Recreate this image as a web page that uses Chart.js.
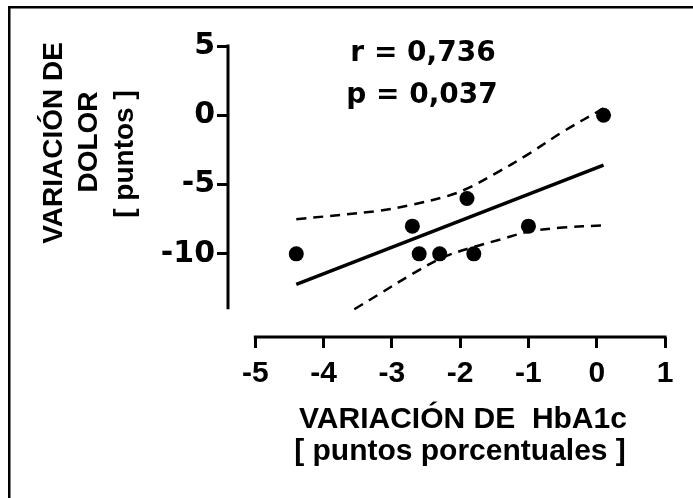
<!DOCTYPE html>
<html><head><meta charset="utf-8">
<script src="https://cdn.jsdelivr.net/npm/chart.js@4"></script>
<style>html,body{margin:0;padding:0;background:#fff;overflow:hidden}canvas{display:block}</style>
</head><body>
<canvas id="c" width="693" height="498"></canvas>
<script>
// ---- data ----
const pointX = [-4.4, -2.7, -2.6, -2.3, -1.9, -1.8, -1.0, 0.1];
const pointY = [-10, -8, -10, -10, -6, -10, -8, 0];
const fitX = [-4.4, 0.1];
const fitY = [-12.2, -3.6];
const upperX = [-4.4, -3.2, -2.7, -2.2, -1.9, -1.5, -1.0, -0.5, 0.1];
const upperY = [-7.5, -6.9, -6.45, -5.85, -5.3, -4.25, -2.8, -1.2, 0.5];
const lowerX = [-3.55, -3.2, -2.7, -2.25, -1.8, -1.4, -1.0, -0.5, 0.1];
const lowerY = [-14.0, -12.95, -11.45, -10.25, -9.5, -8.95, -8.4, -8.1, -7.95];
const xTicks = [-5, -4, -3, -2, -1, 0, 1];
const yTicks = [-10, -5, 0, 5];
const yAxisRange = [-14, 5];
const xAxisRange = [-5, 1];
const yTitle = ['VARIACIÓN DE', 'DOLOR', '[ puntos ]'];
const xTitle = ['VARIACIÓN DE  HbA1c', '[ puntos porcentuales ]'];
const statsText = ['r = 0,736', 'p = 0,037'];

const pts = (xs, ys) => xs.map((x, i) => ({x, y: ys[i]}));

const decor = {
  id: 'decor',
  beforeDraw(chart) {
    const ctx = chart.ctx;
    ctx.save();
    ctx.fillStyle = '#fff';
    ctx.fillRect(0, 0, chart.width, chart.height);
    ctx.fillStyle = '#000';
    ctx.fillRect(8, 6, chart.width - 8, 2.5);
    ctx.fillRect(8, 6, 2.5, chart.height - 6);
    ctx.restore();
  },
  afterDraw(chart) {
    const ctx = chart.ctx;
    const xs = chart.scales.x, ys = chart.scales.y;
    const ca = chart.chartArea;
    ctx.save();
    ctx.strokeStyle = '#000';
    ctx.lineWidth = 3;
    ctx.lineCap = 'butt';
    ctx.beginPath();
    ctx.moveTo(ca.left, ys.getPixelForValue(yAxisRange[1]) - 1.5);
    ctx.lineTo(ca.left, ys.getPixelForValue(yAxisRange[0]));
    ctx.moveTo(xs.getPixelForValue(xAxisRange[0]) - 1.5, ca.bottom);
    ctx.lineTo(xs.getPixelForValue(xAxisRange[1]) + 1.5, ca.bottom);
    ctx.stroke();

    ctx.fillStyle = '#000';
    ctx.textAlign = 'center';
    ctx.textBaseline = 'alphabetic';
    // y title (rotated)
    ctx.font = 'bold 28px "Liberation Sans", Arial, sans-serif';
    const yPos = [[62, 143], [97, 142], [133, 154]];
    yTitle.forEach((t, i) => {
      ctx.save();
      ctx.translate(yPos[i][0], yPos[i][1]);
      ctx.rotate(-Math.PI / 2);
      ctx.fillText(t, 0, 0);
      ctx.restore();
    });
    // x title
    ctx.font = 'bold 30px "Liberation Sans", Arial, sans-serif';
    ctx.fillText(xTitle[0], 463, 428);
    ctx.fillText(xTitle[1], 460, 460);
    // stats
    ctx.font = 'bold 28px "DejaVu Sans", sans-serif';
    ctx.fillText(statsText[0], 423, 61);
    ctx.fillText(statsText[1], 422, 103);
    ctx.restore();
  }
};

new Chart(document.getElementById('c'), {
  type: 'scatter',
  data: {
    datasets: [
      {data: pts(upperX, upperY), showLine: true, borderColor: '#000', borderWidth: 2.5,
       borderDash: [10, 7], pointRadius: 0, tension: 0.35, fill: false},
      {data: pts(lowerX, lowerY), showLine: true, borderColor: '#000', borderWidth: 2.5,
       borderDash: [10, 7], pointRadius: 0, tension: 0.35, fill: false},
      {data: pts(fitX, fitY), showLine: true, borderColor: '#000', borderWidth: 3.5,
       pointRadius: 0, fill: false},
      {data: pts(pointX, pointY), showLine: false, pointRadius: 7.5,
       pointBackgroundColor: '#000', pointBorderColor: '#000', pointBorderWidth: 0}
    ]
  },
  options: {
    responsive: false,
    animation: false,
    devicePixelRatio: 1,
    layout: {padding: {left: 0, top: 46, right: 28, bottom: 0}},
    plugins: {legend: {display: false}, tooltip: {enabled: false}},
    scales: {
      x: {
        type: 'linear', min: -5.4, max: 1,
        afterBuildTicks: s => { s.ticks = xTicks.map(v => ({value: v})); },
        afterFit: s => { s.height = 161; },
        border: {display: false},
        grid: {drawOnChartArea: false, drawTicks: true, tickLength: 11, tickWidth: 3, tickColor: '#000'},
        ticks: {color: '#000', padding: 8, font: {family: '"Liberation Sans", Arial, sans-serif', size: 30, weight: 'bold'},
                callback: v => String(v), maxRotation: 0, autoSkip: false}
      },
      y: {
        type: 'linear', min: -16, max: 5,
        afterBuildTicks: s => { s.ticks = yTicks.map(v => ({value: v})); },
        afterFit: s => { s.width = 228; },
        border: {display: false},
        grid: {drawOnChartArea: false, drawTicks: true, tickLength: 11, tickWidth: 3, tickColor: '#000'},
        ticks: {color: '#000', padding: 2, font: {family: '"DejaVu Sans", sans-serif', size: 30, weight: 'bold'},
                callback: v => String(v), autoSkip: false}
      }
    }
  },
  plugins: [decor]
});
</script>
</body></html>
